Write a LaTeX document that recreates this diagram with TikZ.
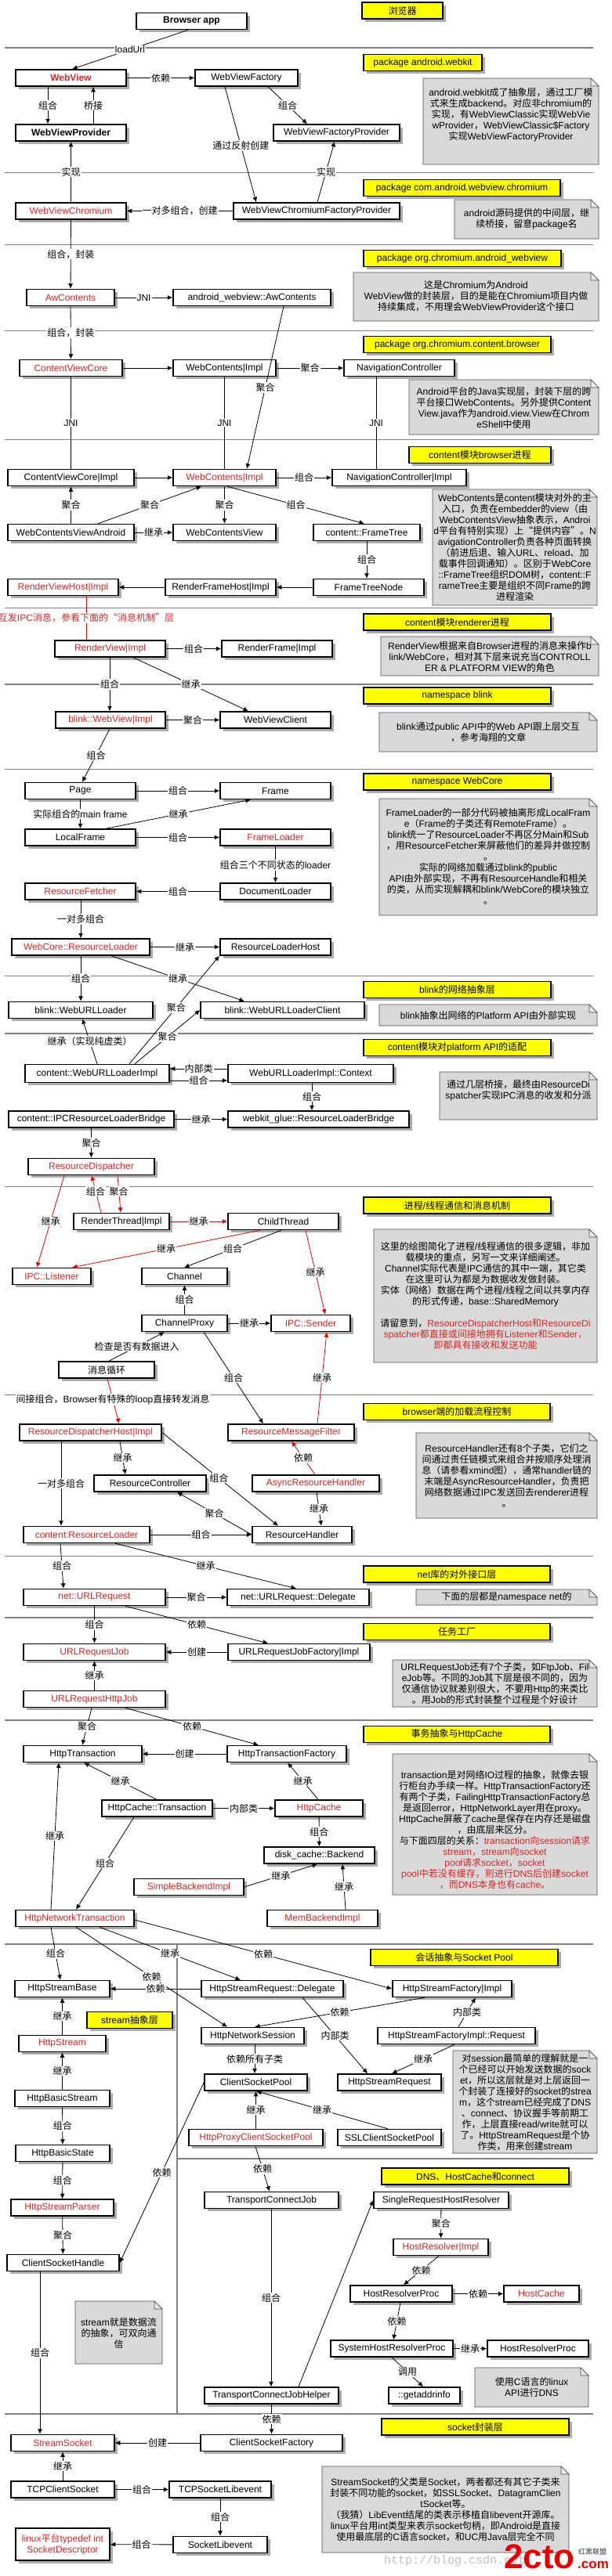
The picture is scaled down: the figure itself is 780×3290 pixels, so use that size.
\documentclass[tikz,border=0pt]{standalone}
\usepackage{fontspec}
\setmainfont{Liberation Sans}
\newfontfamily\cjkf{Noto Sans CJK SC}
\newfontfamily\wmfont{Liberation Mono}
\usetikzlibrary{arrows.meta,shadows}
\XeTeXinterchartokenstate=1
\newXeTeXintercharclass\CJKcls
\newcount\cjkc
\cjkc="3000 \loop\XeTeXcharclass\cjkc=\CJKcls \ifnum\cjkc<"303F \advance\cjkc by 1 \repeat
\cjkc="4E00 \loop\XeTeXcharclass\cjkc=\CJKcls \ifnum\cjkc<"9FFF \advance\cjkc by 1 \repeat
\cjkc="FF00 \loop\XeTeXcharclass\cjkc=\CJKcls \ifnum\cjkc<"FFEF \advance\cjkc by 1 \repeat
\XeTeXcharclass"201C=\CJKcls
\XeTeXcharclass"201D=\CJKcls
\XeTeXcharclass"2018=\CJKcls
\XeTeXcharclass"2019=\CJKcls
\XeTeXinterchartoks 0 \CJKcls={\begingroup\cjkf}
\XeTeXinterchartoks 4095 \CJKcls={\begingroup\cjkf}
\XeTeXinterchartoks \CJKcls 0={\endgroup}
\XeTeXinterchartoks \CJKcls 4095={\endgroup}
\definecolor{RedT}{RGB}{214,38,38}
\definecolor{RedL}{RGB}{232,0,0}
\definecolor{NoteG}{RGB}{217,217,217}
\definecolor{SepG}{RGB}{128,128,128}
\definecolor{ShadG}{RGB}{172,172,172}
\definecolor{Yel}{RGB}{255,255,0}
\tikzset{
  every node/.style={font=\fontsize{12}{14}\selectfont},
  bx/.style={draw=black,line width=1.5pt,fill=white,minimum height=21,inner sep=0pt,
    drop shadow={shadow xshift=3.5pt,shadow yshift=-3.5pt,fill=ShadG,opacity=1}},
  rt/.style={text=RedT},
  tag/.style={draw=black,line width=1.5pt,fill=Yel,minimum height=21,inner sep=0pt,
    drop shadow={shadow xshift=3.5pt,shadow yshift=-3.5pt,fill=ShadG,opacity=1}},
  ar/.style={draw=black,line width=0.8pt,-{Latex[length=6.5pt,width=6pt]}},
  rar/.style={draw=RedL,line width=0.8pt,-{Latex[length=6.5pt,width=6pt]}},
  ln/.style={draw=black,line width=0.8pt},
  rln/.style={draw=RedL,line width=0.8pt},
  lb/.style={fill=white,inner sep=1pt,text=black},
  sep/.style={draw=SepG,line width=1.5pt},
  notefill/.style={fill=NoteG,draw=black!70,line width=0.8pt},
  notefold/.style={draw=black!70,line width=0.6pt,fill=NoteG!60},
  notetext/.style={align=center,inner sep=0pt},
}
\newcommand\mkbox[6][]{\node[bx,minimum width=#5,#1] (#2) at (#3,#4) {#6};}
\newcommand\mktag[5]{\node[tag,minimum width=#4] (#1) at (#2,#3) {#5};}
\newcommand\mknote[7]{%
  \filldraw[notefill] (#1,#2) -- ({#3-10},#2) -- (#3,{#2+10}) -- (#3,#4) -- (#1,#4) -- cycle;
  \filldraw[notefold] ({#3-10},#2) -- ({#3-10},{#2+10}) -- (#3,{#2+10}) -- cycle;
  \node[notetext] (#5) at ({(#1+#3)/2},#6) {#7};}
\begin{document}
\begin{tikzpicture}[x=1pt,y=-1pt]
\fill[white] (0,0) rectangle (780,3290);
\useasboundingbox (0,0) rectangle (780,3290);
% separators
\foreach \yy in {61,220.7,312.7,422.7,561.7,776.7,874,982.7,1246.7,1320,1515.7,1781.7,1987.7,2066,2197,2483,3083}
  \draw[sep] (6,\yy) -- (757,\yy);
\draw[sep] (226,2757) -- (757,2757);
\draw[sep] (226,2483) -- (226,3083);

% notes
\mknote{540}{100}{764}{210}{n1}{147}{android.webkit成了抽象层，通过工厂模\\式来生成backend。对应非chromium的\\实现，有WebViewClassic实现WebVie\\wProvider，WebViewClassic\$Factory\\实现WebViewFactoryProvider}
\mknote{580}{255}{764}{305}{n2}{280}{android源码提供的中间层，继\\续桥接，留意package名}
\mknote{451}{348}{764}{410}{n3}{378.5}{这是Chromium为Android\\WebView做的封装层，目的是能在Chromium项目内做\\持续集成，不用理会WebViewProvider这个接口}
\mknote{522}{485}{764}{555}{n4}{521}{Android平台的Java实现层，封装下层的跨\\平台接口WebContents。另外提供Content\\View.java作为android.view.View在Chrom\\eShell中使用}
\mknote{552}{625}{762}{773}{n5}{699}{WebContents是content模块对外的主\\入口，负责在embedder的view（由\\WebContentsView抽象表示，Androi\\d平台有特别实现）上“提供内容”。N\\avigationController负责各种页面转换\\（前进后退、输入URL、reload、加\\载事件回调通知）。区别于WebCore\\::FrameTree组织DOM树，content::F\\rameTree主要是组织不同Frame的跨\\进程渲染}
\mknote{486}{813}{764}{863}{n6}{838.5}{RenderView根据来自Browser进程的消息来操作b\\link/WebCore，相对其下层来说充当CONTROLL\\ER \& PLATFORM VIEW的角色}
\mknote{484}{910}{762}{960}{n7}{934.7}{blink通过public API中的Web API跟上层交互\\，参考海翔的文章}
\mknote{484}{1020}{762}{1169}{n8}{1094}{FrameLoader的一部分代码被抽离形成LocalFram\\e（Frame的子类还有RemoteFrame）。\\blink统一了ResourceLoader不再区分Main和Sub\\，用ResourceFetcher来屏蔽他们的差异并做控制\\。\\实际的网络加载通过blink的public\\API由外部实现，不再有ResourceHandle和相关\\的类，从而实现解耦和blink/WebCore的模块独立\\。}
\mknote{484}{1283}{762}{1310}{n9}{1296.5}{blink抽象出网络的Platform API由外部实现}
\mknote{561}{1369}{762}{1430}{n10}{1393}{通过几层桥接，最终由ResourceDi\\spatcher实现IPC消息的收发和分派}
\mknote{477}{1570}{762}{1740}{n11}{1655}{这里的绘图简化了进程/线程通信的很多逻辑，非加\\载模块的重点，另写一文来详细阐述。\\Channel实际代表是IPC通信的其中一端，其它类\\在这里可认为都是为数据收发做封装。\\实体（网络）数据在两个进程/线程之间以共享内存\\的形式传递，base::SharedMemory\\[14pt]请留意到，\textcolor{RedT}{ResourceDispatcherHost和ResourceDi}\\\textcolor{RedT}{spatcher都直接或间接地拥有Listener和Sender，}\\\textcolor{RedT}{即都具有接收和发送功能}}
\mknote{531}{1830}{762}{1939}{n12}{1885}{ResourceHandler还有8个子类，它们之\\间通过责任链模式来组合并按顺序处理消\\息（请参看xmind图），通常handler链的\\末端是AsyncResourceHandler，负责把\\网络数据通过IPC发送回去renderer进程\\。}
\mknote{531}{2030}{762}{2050}{n13}{2040}{下面的层都是namespace net的}
\mknote{501}{2120}{762}{2180}{n14}{2150}{URLRequestJob还有7个子类，如FtpJob、Fil\\eJob等。不同的Job其下层是很不同的，因为\\仅通信协议就差别很大，不要用Http的来类比\\。用Job的形式封装整个过程是个好设计}
\mknote{501}{2240}{762}{2420}{n15}{2337}{transaction是对网络IO过程的抽象，就像去银\\行柜台办手续一样。HttpTransactionFactory还\\有两个子类，FailingHttpTransactionFactory总\\是返回error，HttpNetworkLayer用在proxy。\\HttpCache屏蔽了cache是保存在内存还是磁盘\\，由底层来区分。\\与下面四层的关系：\textcolor{RedT}{transaction向session请求}\\\textcolor{RedT}{stream，stream向socket}\\\textcolor{RedT}{pool请求socket，socket}\\\textcolor{RedT}{pool中若没有缓存，则进行DNS后创建socket}\\\textcolor{RedT}{，而DNS本身也有cache。}}
\mknote{578}{2619}{762}{2750}{n16}{2685}{对session最简单的理解就是一\\个已经可以开始发送数据的sock\\et，所以这层就是对上层返回一\\个封装了连接好的socket的strea\\m，这个stream已经完成了DNS\\、connect、协议握手等前期工\\作，上层直接read/write就可以\\了。HttpStreamRequest是个协\\作类，用来创建stream}
\mknote{96}{2939}{207}{3019}{n17}{2980}{stream就是数据流\\的抽象，可双向通\\信}
\mknote{606}{3024}{751}{3074}{n18}{3049}{使用C语言的linux\\API进行DNS}
\mknote{411}{3150}{726}{3260}{n19}{3205}{StreamSocket的父类是Socket，两者都还有其它子类来\\封装不同功能的socket，如SSLSocket、DatagramClien\\tSocket等。\\（我猜）LibEvent结尾的类表示移植自libevent开源库。\\linux平台用int类型来表示socket句柄，即Android是直接\\使用最底层的C语言socket，和UC用Java层完全不同}

% tags
\mktag{t1}{513.5}{13.5}{103}{浏览器}
\mktag{t2}{539.5}{80}{151}{package android.webkit}
\mktag{t3}{589.5}{240}{251}{package com.android.webview.chromium}
\mktag{t4}{590}{330}{252}{package org.chromium.android\_webview}
\mktag{t5}{583.5}{440}{239}{package org.chromium.content.browser}
\mktag{t6}{612.5}{581}{181}{content模块browser进程}
\mktag{t7}{583.5}{794.5}{239}{content模块renderer进程}
\mktag{t8}{583.5}{888.5}{239}{namespace blink}
\mktag{t9}{583.5}{998.5}{239}{namespace WebCore}
\mktag{t10}{583.5}{1264}{239}{blink的网络抽象层}
\mktag{t11}{583.5}{1338}{239}{content模块对platform API的适配}
\mktag{t12}{583.5}{1539.5}{239}{进程/线程通信和消息机制}
\mktag{t13}{583}{1803}{238}{browser端的加载流程控制}
\mktag{t14}{583}{2010.5}{238}{net库的对外接口层}
\mktag{t15}{583}{2084}{238}{任务工厂}
\mktag{t16}{583}{2215}{238}{事务抽象与HttpCache}
\mktag{t17}{592.5}{2500}{239}{会话抽象与Socket Pool}
\mktag{t18}{165.5}{2580}{109}{stream抽象层}
\mktag{t19}{606.5}{2779.5}{239}{DNS、HostCache和connect}
\mktag{t20}{606.5}{3099.5}{239}{socket封装层}

% boxes
\mkbox{browser}{244.5}{27}{141}{\bfseries Browser app}
\mkbox[rt]{webview}{90.5}{99.5}{141}{\bfseries WebView}
\mkbox{wvfactory}{314.5}{99.5}{131}{WebViewFactory}
\mkbox{wvprovider}{90.5}{169.5}{141}{\bfseries WebViewProvider}
\mkbox{wvfprovider}{429.5}{169.5}{161}{WebViewFactoryProvider}
\mkbox[rt]{wvchromium}{90.5}{269.5}{141}{WebViewChromium}
\mkbox{wvcfp}{404}{269.5}{212}{WebViewChromiumFactoryProvider}
\mkbox[rt]{awc}{90}{380}{112}{AwContents}
\mkbox{awn}{321.5}{380}{201}{android\_webview::AwContents}
\mkbox[rt]{cvc}{90.5}{470}{131}{ContentViewCore}
\mkbox{wci1}{286.5}{470}{131}{WebContents|Impl}
\mkbox{navc}{509.5}{470}{141}{NavigationController}
\mkbox{cvci}{90.5}{610}{161}{ContentViewCore|Impl}
\mkbox[rt]{wci2}{286.5}{610}{131}{WebContents|Impl}
\mkbox{navci}{509.5}{610}{171}{NavigationController|Impl}
\mkbox{wcva}{90.5}{680}{161}{WebContentsViewAndroid}
\mkbox{wcv}{286.5}{680}{131}{WebContentsView}
\mkbox{ftree}{468}{680}{136}{content::FrameTree}
\mkbox[rt]{rvh}{80.5}{750}{141}{RenderViewHost|Impl}
\mkbox{rfh}{281.5}{750}{141}{RenderFrameHost|Impl}
\mkbox{ftn}{470.5}{750}{141}{FrameTreeNode}
\mkbox[rt]{rv}{140.5}{828.5}{141}{RenderView|Impl}
\mkbox{rf}{353.5}{828.5}{141}{RenderFrame|Impl}
\mkbox[rt]{bwv}{141}{919.5}{140}{blink::WebView|Impl}
\mkbox{wvcl}{351.5}{919.5}{141}{WebViewClient}
\mkbox{page}{102.5}{1010}{141}{Page}
\mkbox{frame}{351.5}{1010}{141}{Frame}
\mkbox{lframe}{102.5}{1069.5}{141}{LocalFrame}
\mkbox[rt]{floader}{351.5}{1069.5}{141}{FrameLoader}
\mkbox[rt]{rfetch}{102.5}{1138.5}{141}{ResourceFetcher}
\mkbox{dloader}{351.5}{1138.5}{141}{DocumentLoader}
\mkbox[rt]{wcrl}{103}{1209.5}{176}{WebCore::ResourceLoader}
\mkbox{rlhost}{351.5}{1209.5}{141}{ResourceLoaderHost}
\mkbox{wul}{103}{1290}{184}{blink::WebURLLoader}
\mkbox{wulc}{360.5}{1290}{209}{blink::WebURLLoaderClient}
\mkbox[minimum height=23]{wuli}{124}{1371}{184}{content::WebURLLoaderImpl}
\mkbox[minimum height=23]{wulctx}{396.5}{1371}{211}{WebURLLoaderImpl::Context}
\mkbox{ipcb}{116.5}{1429.5}{211}{content::IPCResourceLoaderBridge}
\mkbox{glue}{406.5}{1429.5}{231}{webkit\_glue::ResourceLoaderBridge}
\mkbox[rt]{rdisp}{116.5}{1490}{161}{ResourceDispatcher}
\mkbox{rti}{155}{1560}{122}{RenderThread|Impl}
\mkbox{cthread}{361.5}{1560}{141}{ChildThread}
\mkbox[rt]{listener}{66}{1630}{100}{IPC::Listener}
\mkbox{channel}{235.5}{1630}{109}{Channel}
\mkbox{chproxy}{235.5}{1690}{109}{ChannelProxy}
\mkbox[rt]{sender}{396.5}{1690}{101}{IPC::Sender}
\mkbox{msgloop}{136}{1749.5}{122}{消息循环}
\mkbox[rt]{rdh}{115.5}{1829.5}{181}{ResourceDispatcherHost|Impl}
\mkbox[rt]{rmf}{371.5}{1829.5}{161}{ResourceMessageFilter}
\mkbox{rctrl}{191.5}{1894.5}{143}{ResourceController}
\mkbox[rt]{arh}{403}{1894.5}{162}{AsyncResourceHandler}
\mkbox[rt]{crl}{110.5}{1960}{161}{content:ResourceLoader}
\mkbox{rhandler}{385.5}{1960}{127}{ResourceHandler}
\mkbox[rt]{urlreq}{120.5}{2040}{181}{net::URLRequest}
\mkbox{urldel}{380.5}{2040}{181}{net::URLRequest::Delegate}
\mkbox[rt]{urljob}{120.5}{2110}{181}{URLRequestJob}
\mkbox{jobfac}{381.5}{2110}{181}{URLRequestJobFactory|Impl}
\mkbox[rt]{httpjob}{120.5}{2170}{181}{URLRequestHttpJob}
\mkbox{htrans}{105.5}{2240}{151}{HttpTransaction}
\mkbox{htfac}{366}{2240}{152}{HttpTransactionFactory}
\mkbox{ctrans}{200.5}{2309.5}{141}{HttpCache::Transaction}
\mkbox[rt]{hcache}{407}{2309.5}{112}{HttpCache}
\mkbox{backend}{407.5}{2369.5}{141}{disk\_cache::Backend}
\mkbox[rt]{sbackend}{241}{2410}{140}{SimpleBackendImpl}
\mkbox[rt]{mbackend}{411.5}{2450}{141}{MemBackendImpl}
\mkbox[rt]{hnt}{95.5}{2450}{151}{HttpNetworkTransaction}
\mkbox{sbase}{79.5}{2540}{121}{HttpStreamBase}
\mkbox{srdel}{347.5}{2540}{181}{HttpStreamRequest::Delegate}
\mkbox{sfimpl}{577}{2540}{152}{HttpStreamFactory|Impl}
\mkbox{session}{322.5}{2600}{131}{HttpNetworkSession}
\mkbox{sfreq}{582.5}{2600}{201}{HttpStreamFactoryImpl::Request}
\mkbox[rt]{hstream}{79.5}{2610}{111}{HttpStream}
\mkbox{cspool}{326.5}{2659.5}{131}{ClientSocketPool}
\mkbox{sreq}{497}{2659.5}{132}{HttpStreamRequest}
\mkbox{bstream}{79.5}{2680}{121}{HttpBasicStream}
\mkbox[rt]{ppool}{326.5}{2730}{171}{HttpProxyClientSocketPool}
\mkbox{sslpool}{497}{2730}{132}{SSLClientSocketPool}
\mkbox{bstate}{80}{2750}{120}{HttpBasicState}
\mkbox[rt]{parser}{79.5}{2819.5}{131}{HttpStreamParser}
\mkbox{tcjob}{346.5}{2810}{171}{TransportConnectJob}
\mkbox{srhr}{563}{2810}{172}{SingleRequestHostResolver}
\mkbox[rt]{hri}{562.5}{2870}{121}{HostResolver|Impl}
\mkbox{csh}{80.5}{2890}{143}{ClientSocketHandle}
\mkbox{hrp}{512}{2929.5}{130}{HostResolverProc}
\mkbox[rt]{hcache2}{691}{2929.5}{96}{HostCache}
\mkbox{shrp}{500}{2999.5}{156}{SystemHostResolverProc}
\mkbox{hrp2}{686.5}{2999.5}{129}{HostResolverProc}
\mkbox{tcjh}{346.5}{3059.5}{171}{TransportConnectJobHelper}
\mkbox{gai}{541.5}{3059.5}{91}{::getaddrinfo}
\mkbox[rt]{ssock}{80}{3120}{132}{StreamSocket}
\mkbox{csf}{346.5}{3120}{181}{ClientSocketFactory}
\mkbox{tcpcs}{80}{3179.5}{132}{TCPClientSocket}
\mkbox{tcpsl}{281}{3179.5}{130}{TCPSocketLibevent}
\mkbox{sockl}{281}{3250}{120}{SocketLibevent}
\mkbox[rt,minimum height=41,align=center]{sdesc}{80}{3249.5}{120}{linux平台typedef int\\SocketDescriptor}

% connectors
\draw[ar] (browser.south -| 240,0) -- node[lb]{loadUrl} (webview.north -| 92,0);
\draw[ar] (webview) -- node[lb]{依赖} (wvfactory);
\draw[ar] (webview.south -| 61,0) -- node[lb]{组合} (wvprovider.north -| 61,0);
\draw[ar] (wvprovider.north -| 119,0) -- node[lb]{桥接} (webview.south -| 119,0);
\draw[ar] (wvfactory.south -| 342,0) -- node[lb]{组合} (wvfprovider.north -| 392,0);
\draw[ar] (wvfactory.south -| 287,0) -- node[lb,pos=0.51]{通过反射创建} (wvcfp.north -| 327,0);
\draw[ar] (wvchromium) -- node[lb]{实现} (wvprovider);
\draw[ar] (wvcfp.north -| 405,0) -- node[lb]{实现} (wvfprovider.south -| 427,0);
\draw[ar] (wvcfp) -- node[lb]{一对多组合，创建} (wvchromium);
\draw[ar] (wvchromium) -- node[lb]{组合，封装} (awc);
\draw[ar] (awc) -- node[lb]{JNI} (awn);
\draw[ar] (awc) -- node[lb]{组合，封装} (cvc);
\draw[ar] (cvc) -- (wci1);
\draw[ar] (wci1) -- node[lb]{聚合} (navc);
\draw[ar] (awn.south -| 362,0) -- node[lb]{聚合} (wci2.north -| 315,0);
\draw[ln] (cvc) -- node[lb]{JNI} (cvci);
\draw[ln] (wci1) -- node[lb]{JNI} (wci2);
\draw[ln] (navc.south -| 480,0) -- node[lb]{JNI} (navci.north -| 480,0);
\draw[ar] (cvci) -- (wci2);
\draw[ar] (wci2) -- node[lb]{组合} (navci);
\draw[ar] (wcva) -- node[lb]{聚合} (cvci);
\draw[ar] (wcva.north -| 125,0) -- node[lb]{聚合} (wci2.south -| 257,0);
\draw[ar] (wci2) -- node[lb]{聚合} (wcv);
\draw[ar] (wci2.south -| 290,0) -- node[lb]{组合} (ftree.north -| 465,0);
\draw[ar] (wcva) -- node[lb]{继承} (wcv);
\draw[ar] (ftree.south -| 468,0) -- node[lb]{组合} (ftn.north -| 468,0);
\draw[ar] (ftn) -- (rfh);
\draw[ar] (rfh) -- (rvh);
\draw[rln] (rvh.south -| 110,0) -- node[lb,text=RedT]{互发IPC消息，参看下面的“消息机制”层} (rv.north -| 110,0);
\draw[ar] (rv) -- node[lb]{组合} (rf);
\draw[ar] (rv.south -| 140,0) -- node[lb]{组合} (bwv.north -| 140,0);
\draw[ar] (rv.south -| 170,0) -- node[lb]{继承} (wvcl.north -| 317,0);
\draw[ar] (bwv) -- node[lb]{聚合} (wvcl);
\draw[ar] (bwv.south -| 140,0) -- node[lb]{组合} (page.north -| 105,0);
\draw[ar] (page) -- node[lb]{组合} (frame);
\draw[ar] (page) -- node[lb]{实际组合的main frame} (lframe);
\draw[ar] (lframe.north -| 135,0) -- node[lb]{继承} (frame.south -| 320,0);
\draw[ar] (lframe) -- node[lb]{组合} (floader);
\draw[ar] (floader) -- node[lb,pos=0.52]{组合三个不同状态的loader} (dloader);
\draw[ar] (dloader) -- node[lb]{组合} (rfetch);
\draw[ar] (rfetch.south -| 103,0) -- node[lb]{一对多组合} (wcrl.north -| 103,0);
\draw[ar] (wcrl) -- node[lb]{继承} (rlhost);
\draw[ar] (wcrl) -- node[lb]{组合} (wul);
\draw[ar] (wcrl.south -| 142,0) -- node[lb]{继承} (wulc.north -| 312,0);
\draw[ar] (wuli.north -| 124,0) -- node[lb]{继承（实现纯虚类）} (wul.south -| 105,0);
\draw[ar] (wuli.north -| 165,0) -- node[lb,pos=0.52]{聚合} (rlhost.south -| 280,0);
\draw[ar] (wuli.north -| 172,0) -- node[lb]{聚合} (wulc.west);
\draw[ar] (wulctx.west |- 0,1365) -- node[lb]{内部类} (wuli.east |- 0,1365);
\draw[ar] (wuli.east |- 0,1380) -- node[lb]{组合} (wulctx.west |- 0,1380);
\draw[ar] (wulctx.south -| 398,0) -- node[lb]{组合} (glue.north -| 398,0);
\draw[ar] (ipcb) -- node[lb]{继承} (glue);
\draw[ar] (ipcb) -- node[lb]{聚合} (rdisp);
\draw[rar] (rti.north -| 129,0) -- node[lb,pos=0.57]{组合} (rdisp.south -| 117,0);
\draw[rar] (rdisp.south -| 150,0) -- node[lb,pos=0.43]{聚合} (rti.north -| 154,0);
\draw[rar] (rdisp.south -| 82,0) -- node[lb]{继承} (listener.north -| 47,0);
\draw[rar] (rti) -- node[lb]{继承} (cthread);
\draw[rar] (cthread.south -| 332,0) -- node[lb]{继承} (listener.north -| 92,0);
\draw[ar] (cthread.south -| 359,0) -- node[lb]{组合} (channel.north -| 235,0);
\draw[rar] (cthread.south -| 390,0) -- node[lb]{继承} (sender.north -| 415,0);
\draw[ar] (chproxy) -- node[lb]{组合} (channel);
\draw[ar] (chproxy) -- node[lb]{继承} (sender);
\draw[ar] (msgloop.north -| 139,0) -- node[lb]{检查是否有数据进入} (chproxy.south -| 210,0);
\draw[ar] (chproxy.south -| 260,0) -- node[lb]{组合} (rmf.north -| 336,0);
\draw[rar] (rmf.north -| 405,0) -- node[lb]{继承} (sender.south -| 417,0);
\draw[rar] (msgloop.south -| 137,0) -- node[lb,pos=0.47]{间接组合，Browser有特殊的loop直接转发消息} (rdh.north -| 152,0);
\draw[ar] (rdh.south -| 153,0) -- node[lb]{继承} (rctrl.north -| 160,0);
\draw[rar] (arh.north -| 402,0) -- node[lb]{依赖} (rmf.south -| 372,0);
\draw[ar] (rdh.south -| 78,0) -- node[lb]{一对多组合} (crl.north -| 78,0);
\draw[ar] (rdh.east) -- node[lb,pos=0.49]{组合} (rhandler.north -| 355,0);
\draw[ar] (rhandler.west) -- node[lb]{聚合} (rctrl.south -| 226,0);
\draw[ar] (arh.south -| 404,0) -- node[lb]{继承} (rhandler.north -| 410,0);
\draw[ar] (crl) -- node[lb]{组合} (rhandler);
\draw[ar] (crl.south -| 77,0) -- node[lb]{组合} (urlreq.north -| 81,0);
\draw[ar] (crl.south -| 147,0) -- node[lb]{继承} (urldel.north -| 378,0);
\draw[ar] (urlreq) -- node[lb]{聚合} (urldel);
\draw[ar] (urlreq) -- node[lb]{组合} (urljob);
\draw[ar] (urlreq.south -| 160,0) -- node[lb]{依赖} (jobfac.north -| 342,0);
\draw[ar] (jobfac) -- node[lb]{创建} (urljob);
\draw[ar] (httpjob) -- node[lb]{继承} (urljob);
\draw[ar] (httpjob.south -| 117,0) -- node[lb]{聚合} (htrans.north -| 105,0);
\draw[ar] (httpjob.south -| 160,0) -- node[lb]{依赖} (htfac.north -| 330,0);
\draw[ar] (htfac) -- node[lb]{创建} (htrans);
\draw[ar] (ctrans.north -| 200,0) -- node[lb]{继承} (htrans.south -| 107,0);
\draw[ar] (hcache.north -| 406,0) -- node[lb]{继承} (htfac.south -| 367,0);
\draw[ar] (ctrans) -- node[lb]{内部类} (hcache);
\draw[ar] (hcache) -- node[lb]{组合} (backend);
\draw[ar] (sbackend.east) -- node[lb]{继承} (backend.south -| 405,0);
\draw[ar] (mbackend.north -| 441,0) -- node[lb]{继承} (backend.south -| 437,0);
\draw[ar] (ctrans.south -| 171,0) -- node[lb]{组合} (hnt.north -| 97,0);
\draw[ar] (hnt.north -| 65,0) -- node[lb]{继承} (htrans.south -| 75,0);
\draw[ar] (hnt.south -| 65,0) -- node[lb]{组合} (sbase.north -| 77,0);
\draw[ar] (hnt.south -| 97,0) -- node[lb]{依赖} (session.north -| 290,0);
\draw[ar] (hnt.south -| 127,0) -- node[lb]{继承} (srdel.north -| 307,0);
\draw[ar] (hnt.east |- 0,2452) -- node[lb]{依赖} (sfimpl.west);
\draw[ar] (srdel) -- node[lb]{依赖} (sbase);
\draw[ar] (hstream) -- node[lb]{继承} (sbase);
\draw[ar] (sfimpl.south -| 542,0) -- node[lb]{依赖} (session.north -| 325,0);
\draw[ar] (sfreq.north -| 585,0) -- node[lb]{内部类} (sfimpl.south -| 607,0);
\draw[ar] (srdel.south -| 386,0) -- node[lb]{内部类} (sreq.north -| 469,0);
\draw[ar] (bstream) -- node[lb]{继承} (hstream);
\draw[ar] (session.south -| 325,0) -- node[lb]{依赖所有子类} (cspool.north -| 325,0);
\draw[ar] (sfreq.south -| 580,0) -- node[lb]{继承} (sreq.north -| 500,0);
\draw[ar] (ppool) -- node[lb]{继承} (cspool);
\draw[ar] (sslpool.north -| 495,0) -- node[lb]{继承} (cspool.south -| 327,0);
\draw[ar] (bstream) -- node[lb]{组合} (bstate);
\draw[ar] (cspool.west) -- node[lb]{依赖} (csh.east);
\draw[ar] (ppool.south -| 326,0) -- node[lb]{依赖} (tcjob.north -| 344,0);
\draw[ar] (bstate) -- node[lb]{组合} (parser);
\draw[ar] (srhr) -- node[lb]{聚合} (hri);
\draw[ar] (parser) -- node[lb]{聚合} (csh);
\draw[ar] (hri.south -| 560,0) -- node[lb]{依赖} (hrp.north -| 515,0);
\draw[ar] (hrp) -- node[lb]{依赖} (hcache2);
\draw[ar] (csh.south -| 51,0) -- node[lb]{组合} (ssock.north -| 51,0);
\draw[ar] (tcjob.south -| 346,0) -- node[lb]{组合} (tcjh.north -| 346,0);
\draw[ar] (tcjh.north -| 381,0) -- (srhr.west);
\draw[ar] (hrp.south -| 511,0) -- node[lb]{依赖} (shrp.north -| 502,0);
\draw[ar] (shrp) -- node[lb]{继承} (hrp2);
\draw[ar] (shrp.south -| 500,0) -- node[lb]{调用} (gai.north -| 540,0);
\draw[ar] (tcjh) -- node[lb]{依赖} (csf);
\draw[ar] (csf) -- node[lb]{创建} (ssock);
\draw[ar] (tcpcs) -- node[lb]{继承} (ssock);
\draw[ar] (tcpcs) -- node[lb]{组合} (tcpsl);
\draw[ar] (tcpsl) -- node[lb]{组合} (sockl);
\draw[ar] (sockl) -- node[lb]{组合} (sdesc);

% watermark
\node[text=black!25,font=\wmfont\fontsize{15}{15}\selectfont,anchor=west,inner sep=0] (wm) at (490,3271) {http://blog.csdn.net/};
\node[text=RedL,font=\bfseries\fontsize{44}{44}\selectfont,anchor=base west,inner sep=0] (logo) at (643,3280) {2cto};
\node[text=RedL,font=\bfseries\fontsize{17}{17}\selectfont,anchor=base west,inner sep=0] (logocom) at (737,3280) {.com};
\node[text=black!80,font=\fontsize{9}{9}\selectfont,anchor=west,inner sep=0] (logocn) at (738,3259) {红黑联盟};
\end{tikzpicture}
\end{document}
